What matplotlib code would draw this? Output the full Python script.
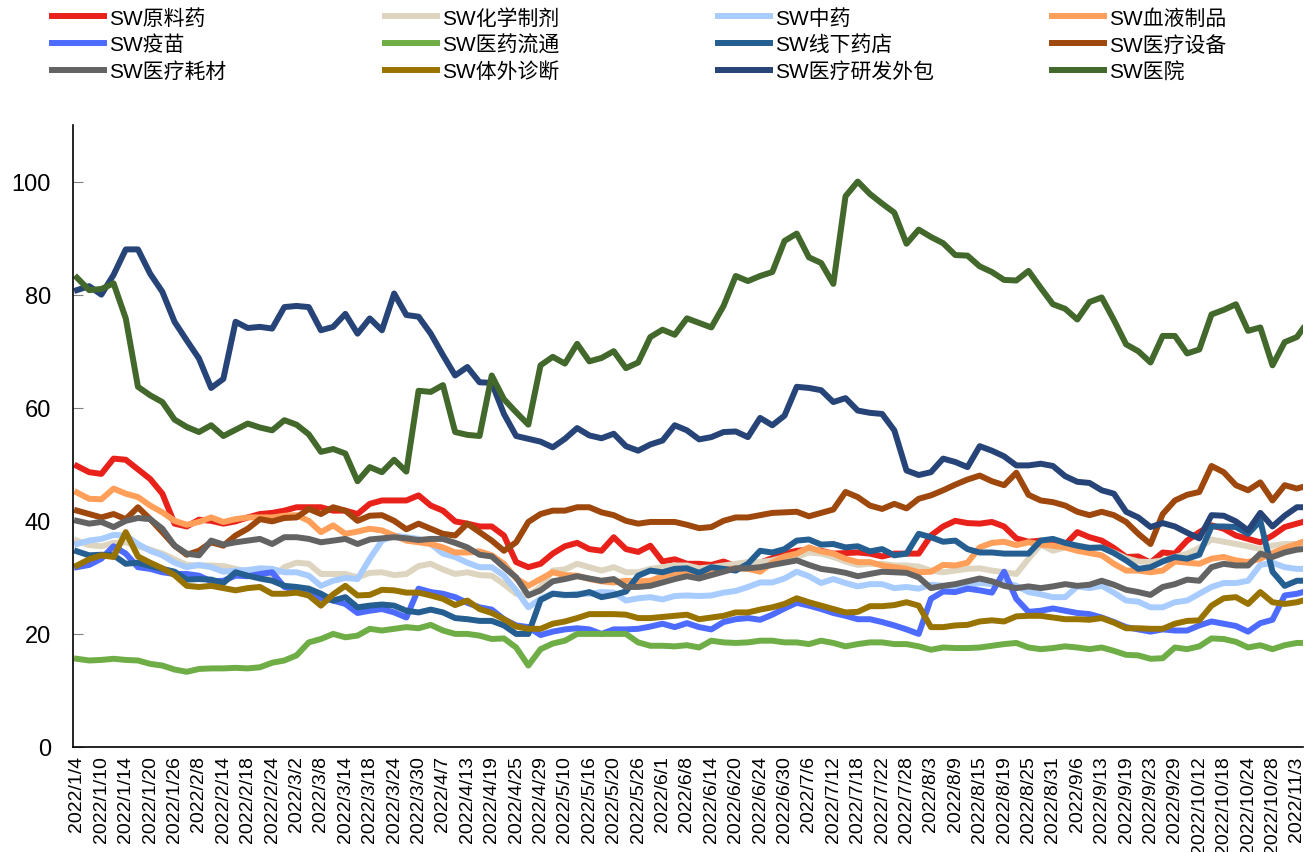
import numpy as np
import pandas as pd
import matplotlib
matplotlib.use("Agg")
import matplotlib.pyplot as plt
from matplotlib.lines import Line2D

plt.rcParams["font.family"] = ["Liberation Sans", "Noto Sans CJK SC"]

# trading calendar (SSE), 2022/1/4 .. 2022/11/4
holidays = ["2022-01-31", "2022-02-01", "2022-02-02", "2022-02-03", "2022-02-04",
            "2022-04-04", "2022-04-05", "2022-05-02", "2022-05-03", "2022-05-04",
            "2022-06-03", "2022-09-12", "2022-10-03", "2022-10-04", "2022-10-05",
            "2022-10-06", "2022-10-07"]
dates = pd.bdate_range("2022-01-04", "2022-11-04", freq="C", holidays=holidays)
tick_idx = list(range(0, 201, 4))
tick_labels = [f"{dates[i].year}/{dates[i].month}/{dates[i].day}" for i in tick_idx]

# values read every second trading day, plus the last day
sample_days = list(range(0, 201, 2)) + [201]

api = [49.7, 48.6, 48.3, 51.0, 50.8, 49.1, 47.4, 44.8, 39.5, 39.0, 40.2, 40.0, 39.5, 39.9, 40.6, 41.2, 41.4, 41.8, 42.4, 42.4,
       42.4, 41.8, 41.8, 41.2, 43.0, 43.6, 43.6, 43.6, 44.5, 42.7, 41.8, 39.9, 39.5, 39.0, 39.0, 37.4, 32.7, 31.8, 32.4, 34.2,
       35.5, 36.1, 35.0, 34.7, 37.1, 35.0, 34.5, 35.6, 32.8, 33.2, 32.4, 32.4, 32.2, 32.8, 32.0, 32.0, 32.6, 33.4, 34.2, 34.7,
       34.9, 34.7, 34.2, 34.3, 34.4, 34.2, 33.7, 34.2, 34.2, 34.2, 37.4, 39.0, 40.0, 39.6, 39.5, 39.8, 39.0, 36.9, 36.3,
       36.5, 35.9, 35.8, 38.0, 37.1, 36.5, 35.2, 33.6, 33.7, 32.6, 34.4, 34.2, 36.5, 38.0, 39.2, 38.6, 37.4, 36.8, 36.2, 37.4, 38.9, 39.5, 39.8]
chem = [36.5, 35.7, 35.5, 36.1, 36.2, 35.5, 34.9, 34.2, 33.2, 32.2, 32.1, 32.1, 32.0, 31.5, 31.0, 30.3, 30.0, 31.8, 32.6, 32.4,
        30.6, 30.6, 30.6, 30.0, 30.8, 30.9, 30.4, 30.6, 32.0, 32.4, 31.4, 30.6, 30.9, 30.4, 30.3, 28.8, 27.1, 26.8, 28.3, 31.2,
        31.4, 32.4, 31.8, 31.2, 31.8, 30.9, 30.9, 31.5, 31.8, 32.1, 32.1, 31.6, 31.8, 32.1, 32.4, 32.7, 32.7, 33.0, 33.6, 33.6,
        34.4, 34.2, 33.6, 32.8, 32.2, 32.4, 32.4, 32.1, 32.1, 31.9, 31.2, 30.9, 31.2, 31.5, 31.6, 31.2, 30.9, 30.6, 33.3,
        35.8, 34.7, 35.3, 35.6, 35.3, 35.2, 34.4, 33.4, 32.8, 32.7, 33.0, 33.6, 34.2, 35.2, 36.7, 36.3, 35.9, 35.5, 35.0, 35.6, 35.9, 35.9, 35.9]
tcm = [35.9, 36.5, 36.8, 37.5, 37.4, 35.9, 34.7, 33.9, 32.6, 31.8, 32.2, 31.8, 31.0, 31.2, 31.3, 31.6, 31.5, 30.9, 30.9, 30.3,
       28.5, 29.4, 29.9, 29.7, 33.3, 36.5, 37.4, 37.1, 36.8, 35.9, 34.2, 33.6, 32.6, 31.8, 31.8, 30.3, 27.7, 24.7, 26.2, 27.2,
       26.8, 27.1, 27.1, 27.4, 27.3, 25.9, 26.3, 26.5, 26.1, 26.7, 26.8, 26.7, 26.8, 27.3, 27.6, 28.3, 29.1, 29.1, 29.8, 31.0,
       30.2, 29.0, 29.7, 29.0, 28.4, 28.8, 28.8, 28.1, 28.3, 28.0, 28.7, 28.5, 28.5, 28.5, 29.0, 28.8, 29.1, 28.5, 27.4,
       27.0, 26.5, 26.5, 28.4, 28.1, 28.5, 27.3, 25.9, 25.7, 24.7, 24.7, 25.6, 25.9, 27.1, 28.3, 29.0, 29.0, 29.4, 32.2, 32.6, 31.8, 31.5, 31.5]
blood = [45.0, 43.9, 43.8, 45.7, 44.8, 44.2, 42.7, 41.5, 40.0, 39.3, 39.8, 40.6, 39.8, 40.3, 40.6, 40.6, 40.6, 40.9, 41.0, 40.0,
         38.0, 39.2, 37.7, 38.1, 38.6, 38.3, 37.4, 36.5, 36.2, 35.9, 35.3, 34.4, 34.4, 34.6, 33.9, 32.4, 29.8, 28.5, 29.7, 30.9,
         30.4, 30.3, 29.7, 29.3, 29.1, 29.4, 29.3, 29.4, 30.2, 30.8, 30.8, 30.4, 30.9, 31.4, 31.6, 31.5, 31.0, 32.6, 33.7, 34.2,
         35.3, 34.6, 34.2, 33.3, 32.7, 32.7, 32.1, 31.8, 31.5, 30.9, 31.0, 32.2, 32.1, 32.6, 35.3, 36.1, 36.3, 35.7, 36.2,
         35.8, 35.6, 35.3, 34.7, 34.3, 33.9, 32.4, 31.2, 31.2, 30.9, 31.2, 32.8, 32.6, 32.4, 33.3, 33.6, 33.0, 32.7, 33.3, 34.3, 35.2, 35.9, 36.3]
vaccine = [31.8, 32.2, 33.3, 35.5, 34.2, 31.8, 31.5, 30.9, 30.6, 30.6, 30.3, 29.3, 29.4, 30.3, 30.2, 30.6, 30.9, 28.3, 27.7, 27.5,
           26.3, 25.9, 25.3, 23.7, 24.1, 24.4, 23.8, 22.9, 28.0, 27.4, 27.1, 26.5, 25.5, 24.7, 24.3, 22.6, 21.5, 21.2, 19.8, 20.4,
           20.8, 21.0, 20.8, 20.0, 20.8, 20.8, 20.9, 21.3, 21.8, 21.2, 21.9, 21.2, 20.8, 22.1, 22.6, 22.8, 22.5, 23.4, 24.5, 25.5,
           25.0, 24.4, 23.7, 23.2, 22.6, 22.6, 22.1, 21.5, 20.8, 20.0, 26.2, 27.5, 27.4, 28.0, 27.7, 27.3, 31.0, 26.2, 23.9,
           24.1, 24.5, 24.1, 23.7, 23.5, 22.9, 22.1, 21.2, 20.8, 20.4, 20.8, 20.6, 20.6, 21.5, 22.2, 21.8, 21.4, 20.4, 21.9, 22.5, 26.8, 27.1, 27.4]
distrib = [15.6, 15.3, 15.4, 15.6, 15.4, 15.3, 14.7, 14.4, 13.7, 13.3, 13.8, 13.9, 13.9, 14.0, 13.9, 14.1, 14.9, 15.3, 16.2, 18.5,
           19.1, 20.0, 19.4, 19.7, 20.9, 20.6, 20.9, 21.2, 21.0, 21.6, 20.6, 20.0, 20.0, 19.7, 19.1, 19.2, 17.6, 14.4, 17.3, 18.3,
           18.8, 20.0, 20.0, 20.0, 20.0, 20.0, 18.5, 17.9, 17.9, 17.8, 18.0, 17.6, 18.8, 18.5, 18.4, 18.5, 18.8, 18.8, 18.5, 18.5,
           18.2, 18.8, 18.4, 17.8, 18.2, 18.5, 18.5, 18.2, 18.2, 17.8, 17.2, 17.6, 17.5, 17.5, 17.6, 17.9, 18.2, 18.4, 17.6,
           17.3, 17.5, 17.8, 17.6, 17.3, 17.6, 17.0, 16.3, 16.2, 15.6, 15.7, 17.6, 17.3, 17.8, 19.2, 19.1, 18.6, 17.6, 18.0, 17.3, 18.0, 18.4, 18.4]
pharmacy = [34.6, 33.9, 34.0, 33.9, 32.4, 32.6, 32.0, 31.5, 31.0, 29.6, 29.7, 29.6, 29.0, 30.9, 30.3, 29.8, 29.4, 28.5, 28.3, 28.0,
            27.1, 25.9, 26.5, 24.7, 25.0, 25.2, 25.0, 24.1, 23.8, 24.3, 23.8, 22.8, 22.6, 22.3, 22.3, 21.5, 20.0, 20.0, 26.0, 27.1,
            26.9, 26.9, 27.4, 26.5, 26.9, 27.5, 30.3, 31.2, 30.9, 31.5, 31.6, 30.8, 31.8, 31.5, 31.2, 32.4, 34.7, 34.4, 35.0, 36.5,
            36.7, 35.8, 35.9, 35.3, 35.5, 34.6, 35.0, 33.9, 34.2, 37.7, 37.1, 36.3, 36.5, 35.0, 34.4, 34.4, 34.2, 34.2, 34.2,
            36.5, 36.8, 36.1, 35.6, 35.2, 35.3, 34.3, 33.0, 31.5, 31.8, 32.8, 33.6, 33.3, 34.0, 39.0, 39.0, 38.9, 37.7, 40.0, 31.0, 28.5, 29.4, 29.4]
device = [41.8, 41.2, 40.6, 41.2, 40.3, 42.4, 40.3, 38.0, 35.6, 34.0, 34.7, 36.2, 35.6, 37.4, 38.6, 40.3, 39.9, 40.5, 40.6, 42.1,
          41.2, 42.4, 41.8, 40.0, 40.9, 41.0, 40.0, 38.5, 39.5, 38.6, 37.7, 37.4, 39.5, 38.0, 36.5, 34.7, 36.2, 39.8, 41.2, 41.8,
          41.8, 42.4, 42.4, 41.5, 41.0, 40.0, 39.5, 39.8, 39.8, 39.8, 39.3, 38.7, 38.9, 40.0, 40.6, 40.6, 41.0, 41.4, 41.5, 41.6,
          40.8, 41.4, 42.0, 45.1, 44.2, 42.7, 42.1, 43.0, 42.2, 43.9, 44.5, 45.4, 46.4, 47.3, 48.0, 47.0, 46.3, 48.5, 44.6,
          43.6, 43.3, 42.7, 41.6, 41.0, 41.6, 41.0, 39.8, 37.7, 35.9, 41.2, 43.6, 44.6, 45.1, 49.7, 48.6, 46.3, 45.4, 46.8, 43.6, 46.3, 45.7, 46.0]
consum = [40.0, 39.5, 39.8, 38.9, 40.0, 40.5, 40.3, 38.6, 35.6, 34.2, 33.9, 36.5, 35.8, 36.2, 36.5, 36.8, 35.9, 37.1, 37.1, 36.8,
          36.2, 36.5, 36.8, 35.9, 36.7, 36.9, 37.1, 36.9, 36.6, 36.8, 36.8, 36.1, 35.3, 34.0, 33.7, 31.8, 30.0, 26.8, 27.7, 29.3,
          29.7, 30.2, 29.8, 29.4, 29.7, 28.3, 28.3, 28.5, 29.1, 29.7, 30.2, 29.8, 30.4, 31.0, 31.6, 31.6, 31.8, 32.2, 32.6, 33.0,
          32.2, 31.5, 31.2, 30.8, 30.2, 30.6, 31.0, 30.9, 30.8, 30.0, 28.1, 28.5, 28.8, 29.3, 29.8, 29.3, 28.5, 28.1, 28.4,
          28.1, 28.4, 28.8, 28.5, 28.7, 29.4, 28.7, 27.8, 27.4, 26.9, 28.3, 28.8, 29.6, 29.4, 31.8, 32.4, 32.1, 32.1, 34.2, 33.6, 34.4, 34.9, 35.0]
ivd = [32.1, 33.2, 33.9, 33.6, 38.0, 33.7, 32.6, 31.6, 30.4, 28.5, 28.3, 28.5, 28.1, 27.7, 28.1, 28.3, 27.1, 27.1, 27.3, 26.8,
       25.0, 27.0, 28.5, 26.8, 26.9, 27.8, 27.7, 27.3, 27.3, 26.8, 26.2, 25.1, 25.9, 24.4, 23.7, 22.6, 21.3, 20.9, 20.9, 21.8,
       22.2, 22.8, 23.5, 23.5, 23.5, 23.4, 22.8, 22.8, 23.0, 23.2, 23.4, 22.6, 22.9, 23.2, 23.8, 23.8, 24.3, 24.7, 25.3, 26.3,
       25.6, 25.0, 24.4, 23.8, 23.9, 24.9, 24.9, 25.1, 25.6, 25.0, 21.2, 21.2, 21.5, 21.6, 22.2, 22.4, 22.2, 23.1, 23.2,
       23.2, 22.9, 22.6, 22.6, 22.5, 22.8, 22.0, 21.0, 21.0, 20.9, 20.9, 21.8, 22.3, 22.4, 25.0, 26.3, 26.5, 25.3, 27.4, 25.6, 25.3, 25.6, 25.9]
cro = [80.8, 81.5, 80.0, 83.5, 88.0, 88.0, 83.7, 80.5, 75.2, 71.9, 68.7, 63.5, 65.1, 75.2, 74.1, 74.3, 74.0, 77.8, 78.0, 77.8,
       73.7, 74.3, 76.6, 73.1, 75.8, 73.7, 80.2, 76.4, 76.1, 73.1, 69.3, 65.7, 67.2, 64.5, 64.4, 58.9, 55.0, 54.5, 54.0, 53.0,
       54.5, 56.4, 55.1, 54.6, 55.4, 53.2, 52.4, 53.5, 54.2, 56.9, 56.0, 54.4, 54.8, 55.7, 55.8, 54.8, 58.2, 56.9, 58.6, 63.7,
       63.5, 63.1, 61.0, 61.7, 59.5, 59.1, 58.9, 56.0, 48.9, 48.1, 48.6, 51.0, 50.4, 49.5, 53.2, 52.4, 51.4, 49.8, 49.8,
       50.1, 49.7, 47.9, 46.9, 46.7, 45.4, 44.8, 41.6, 40.6, 38.9, 39.6, 39.0, 37.9, 36.9, 41.0, 40.9, 39.9, 38.3, 41.4, 39.0, 40.9, 42.4, 42.4]
hospital = [83.0, 80.8, 81.0, 82.0, 75.8, 63.7, 62.2, 61.0, 57.9, 56.6, 55.7, 56.9, 55.0, 56.1, 57.2, 56.5, 56.0, 57.8, 57.0, 55.3,
            52.2, 52.7, 51.9, 47.0, 49.5, 48.6, 50.8, 48.7, 63.0, 62.8, 64.0, 55.7, 55.2, 55.0, 65.7, 61.5, 59.2, 57.0, 67.5, 69.0,
            67.8, 71.3, 68.2, 68.8, 70.0, 67.0, 68.0, 72.5, 73.8, 72.9, 75.8, 75.0, 74.2, 78.0, 83.3, 82.4, 83.3, 84.0, 89.5, 90.8,
            86.6, 85.6, 81.9, 97.4, 100.0, 97.8, 96.1, 94.5, 89.0, 91.5, 90.2, 89.1, 87.0, 86.9, 85.0, 84.0, 82.6, 82.5, 84.2,
            81.2, 78.3, 77.5, 75.6, 78.7, 79.5, 75.5, 71.2, 70.0, 68.0, 72.7, 72.7, 69.6, 70.3, 76.5, 77.3, 78.3, 73.6, 74.2, 67.5, 71.6, 72.5, 74.0]

names = ["SW原料药", "SW化学制剂", "SW中药", "SW血液制品",
         "SW疫苗", "SW医药流通", "SW线下药店", "SW医疗设备",
         "SW医疗耗材", "SW体外诊断", "SW医疗研发外包", "SW医院"]
series = [api, chem, tcm, blood, vaccine, distrib, pharmacy, device, consum, ivd, cro, hospital]
colors = ["#E8221B", "#DDD5BF", "#A8CCFF", "#FF9F5A",
          "#4D6BFE", "#6FAE47", "#255E91", "#9E480E",
          "#636363", "#997300", "#264478", "#43682B"]
LW = 4.3

fig = plt.figure(figsize=(13.14, 8.53), dpi=100)
ax = fig.add_axes([73 / 1314, 1 - 748 / 853, 1230 / 1314, 622 / 853])

for vals, c in zip(series, colors):
    ax.plot(sample_days, vals, color=c, lw=LW, solid_joinstyle="round")

ax.set_xlim(-0.65, 201)
ax.set_ylim(0, 110)
ax.set_yticks(range(0, 101, 20))
ax.set_xticks(tick_idx)
ax.set_xticklabels(tick_labels, rotation=90)
ax.tick_params(axis="y", direction="in", length=7, color="#808080", labelsize=17, pad=16)
ax.tick_params(axis="x", length=0, labelsize=14, pad=6)
for s in ["top", "right"]:
    ax.spines[s].set_visible(False)
ax.spines["left"].set_linewidth(1.2)
ax.spines["bottom"].set_linewidth(1.2)

# legend: 4 columns x 3 rows, one legend per column
col_x = [52, 385, 718, 1052]
for c in range(4):
    handles = [Line2D([], [], color=colors[r * 4 + c], lw=LW) for r in range(3)]
    labels = [names[r * 4 + c] for r in range(3)]
    fig.legend(handles, labels, loc="upper left", bbox_to_anchor=(col_x[c] / 1314, 1 - 9 / 853),
               frameon=False, fontsize=15, handlelength=2.5, handletextpad=0.25,
               labelspacing=0.33, borderpad=0, borderaxespad=0)

fig.savefig("out.png", dpi=100)
